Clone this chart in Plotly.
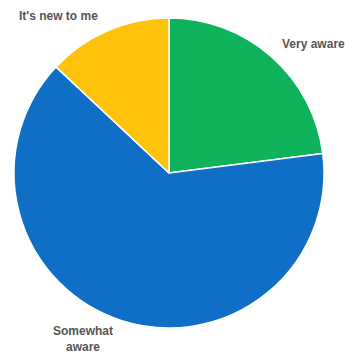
import plotly.graph_objects as go

# Awareness survey shares
labels = ["Very aware", "Somewhat aware", "It's new to me"]
values = [23, 64, 13]
colors = ["#0DB25B", "#0F6FC6", "#FFC20A"]

W, H = 352, 354

# Label text and centre positions in pixels
label_text = ["Very aware", "Somewhat<br>aware", "It's new to me"]
label_px = [(313, 44), (83, 339), (58, 16)]

fig = go.Figure(
    go.Pie(
        labels=labels,
        values=values,
        marker=dict(colors=colors, line=dict(color="white", width=1.5)),
        sort=False,
        direction="clockwise",
        rotation=0,
        textinfo="none",
        hoverinfo="label+percent",
        showlegend=False,
        domain=dict(x=[14 / W, 324 / W], y=[1 - 328 / H, 1 - 18 / H]),
    )
)

for txt, (px, py) in zip(label_text, label_px):
    fig.add_annotation(
        x=px / W, y=1 - py / H, xref="paper", yref="paper",
        text=f"<b>{txt}</b>", showarrow=False,
        font=dict(family="Liberation Sans, Arial, sans-serif", size=12, color="#555555"),
        xanchor="center", yanchor="middle",
    )

fig.update_layout(
    width=W,
    height=H,
    margin=dict(l=0, r=0, t=0, b=0),
    paper_bgcolor="white",
    plot_bgcolor="white",
)

fig.write_html("out.html")
